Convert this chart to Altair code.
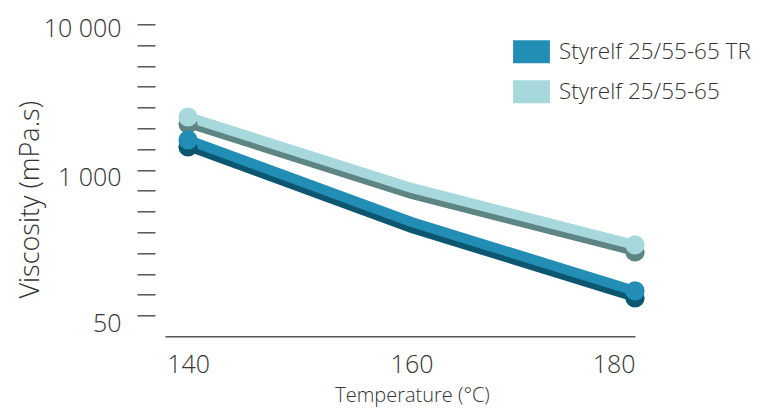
import altair as alt
import pandas as pd

SERIES = ["Styrelf 25/55-65", "Styrelf 25/55-65 TR"]
TEMPS = [140, 160, 180]
VISC_PLAIN = [2410, 811, 338]
VISC_TR = [1694, 481, 167]
MAIN_COLORS = ["#a7d9dc", "#228db5"]
SHADOW_COLORS = ["#5e8484", "#0c566f"]
Y_LABELS = ["10 000", "1 000", "50"]
X_TICKS = [140, 160, 180]
DOT_TEMPS = [140, 180]

rows = []
for s, vals in zip(SERIES, [VISC_PLAIN, VISC_TR]):
    for t, v in zip(TEMPS, vals):
        rows.append({"series": s, "temp": t, "visc": v})
df = pd.DataFrame(rows)

FONT = "Open Sans"
TXT = "#333333"

# evenly spaced decorative ticks on the log axis (16 ticks)
y_ticks = [round(10 ** (4 - k * 0.13867), 3) for k in range(16)]

label_expr = (
    f"datum.value > 9000 ? '{Y_LABELS[0]}' : "
    f"(datum.value > 900 && datum.value < 1300) ? '{Y_LABELS[1]}' : "
    f"(datum.value > 100 && datum.value < 130) ? '{Y_LABELS[2]}' : ''"
)

x_enc = alt.X(
    "temp:Q",
    scale=alt.Scale(domain=[137.94, 180.0], nice=False, zero=False),
    axis=alt.Axis(
        values=X_TICKS, ticks=False, grid=False, domainColor="#555555",
        domainWidth=1.5, labelFont=FONT, labelFontSize=25, labelFontWeight=300,
        labelColor=TXT, labelPadding=16, title="Temperature (°C)", titleFont=FONT,
        titleFontSize=20, titleFontWeight=300, titleColor=TXT,
        titlePadding=8, titleX=247,
    ),
)
y_enc = alt.Y(
    "visc:Q",
    scale=alt.Scale(type="log", domain=[83.2, 10000], nice=False),
    axis=alt.Axis(
        values=y_ticks, labelExpr=label_expr, domain=False, grid=False,
        offset=10, tickSize=18, tickColor="#555555", tickWidth=1.5,
        labelFont=FONT, labelFontSize=25, labelFontWeight=300, labelColor=TXT,
        labelPadding=16,
        labelOffset={"condition": {"test": "datum.value < 2000", "value": 8}, "value": 4},
        title="Viscosity (mPa.s)", titleFont=FONT, titleFontSize=27,
        titleFontWeight=300, titleColor=TXT, titleX=-111, titleY=175,
    ),
)

is_tr = f"datum.series == '{SERIES[1]}'"
shadow_color = alt.condition(is_tr, alt.value(SHADOW_COLORS[1]), alt.value(SHADOW_COLORS[0]))
main_color = alt.condition(is_tr, alt.value(MAIN_COLORS[1]), alt.value(MAIN_COLORS[0]))

base = alt.Chart(df)
dots = base.transform_filter(alt.FieldOneOfPredicate(field="temp", oneOf=DOT_TEMPS))

shadow_line = base.mark_line(strokeWidth=10, yOffset=6, strokeCap="butt").encode(
    x=x_enc, y=y_enc, detail="series:N", stroke=shadow_color)
main_line = base.mark_line(strokeWidth=10, strokeCap="butt").encode(
    x="temp:Q", y="visc:Q", detail="series:N", stroke=main_color)
shadow_dot = dots.mark_circle(size=370, opacity=1, yOffset=7).encode(
    x="temp:Q", y="visc:Q", fill=shadow_color)
main_dot = dots.mark_circle(size=370, opacity=1).encode(
    x="temp:Q", y="visc:Q",
    fill=alt.Fill(
        "series:N",
        scale=alt.Scale(domain=[SERIES[1], SERIES[0]], range=[MAIN_COLORS[1], MAIN_COLORS[0]]),
        legend=alt.Legend(
            title=None, orient="none", legendX=355, legendY=16, padding=0,
            symbolType="M-1.6,-1H1.6V1H-1.6Z", symbolSize=529, symbolStrokeWidth=0,
            symbolOpacity=1, labelFont=FONT, labelFontSize=22.5, labelFontWeight=300,
            labelColor=TXT, labelOffset=16, rowPadding=17, labelLimit=400,
        ),
    ),
)

chart = alt.layer(shadow_line, main_line, shadow_dot, main_dot).properties(
    width=470, height=312,
    autosize=alt.AutoSizeParams(type="none"),
    padding={"left": 157, "top": 16.3, "right": 121, "bottom": 71},
).configure_view(stroke=None)

chart.save("out.html", embed_options={"renderer": "svg", "actions": False})
